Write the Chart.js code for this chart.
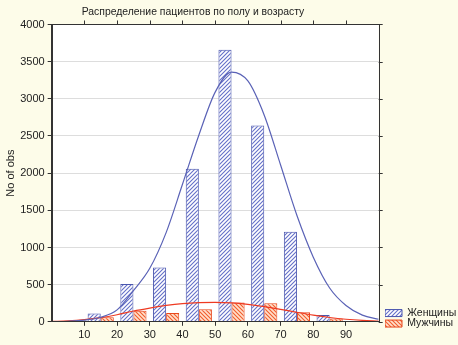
<!DOCTYPE html>
<html>
<head>
<meta charset="utf-8">
<script src="https://cdn.jsdelivr.net/npm/chart.js@4/dist/chart.umd.min.js"></script>
<style>
  html, body { margin: 0; padding: 0; background: #FDFCE9; }
  #wrap { width: 458px; height: 345px; }
</style>
</head>
<body>
<div id="wrap"><canvas id="c" width="458" height="345"></canvas></div>
<script>
// ---- data ----
const titleText = 'Распределение пациентов по полу и возрасту';
const yTitle = 'No of obs';
const seriesNames = ['Женщины', 'Мужчины'];
const ageGroups = [15, 25, 35, 45, 55, 65, 75, 85];
const women = [110, 510, 730, 2060, 3660, 2640, 1210, 90];
const men = [60, 150, 120, 170, 260, 250, 130, 45];
const fitX = [0, 5, 10, 15, 20, 25, 30, 35, 40, 45, 50, 55, 60, 65, 70, 75, 80, 85, 90, 95, 100];
const womenFit = [2, 7, 22, 61, 160, 420, 720, 1200, 1850, 2510, 3090, 3360, 3240, 2780, 2110, 1430, 870, 455, 220, 90, 34];
const menFit = [5, 12, 28, 55, 95, 145, 185, 220, 245, 258, 262, 255, 235, 205, 168, 128, 90, 58, 34, 18, 8];
const xTicks = [10, 20, 30, 40, 50, 60, 70, 80, 90];

function hatch(bg, fg, dir) {
  const s = 4;
  const cv = document.createElement('canvas');
  cv.width = s; cv.height = s;
  const g = cv.getContext('2d');
  g.fillStyle = bg; g.fillRect(0, 0, s, s);
  g.strokeStyle = fg; g.lineWidth = 1.1;
  g.beginPath();
  if (dir > 0) {
    g.moveTo(-1, s + 1); g.lineTo(s + 1, -1);
    g.moveTo(-1, 1); g.lineTo(1, -1);
    g.moveTo(s - 1, s + 1); g.lineTo(s + 1, s - 1);
  } else {
    g.moveTo(-1, -1); g.lineTo(s + 1, s + 1);
    g.moveTo(s - 1, -1); g.lineTo(s + 1, 1);
    g.moveTo(-1, s - 1); g.lineTo(1, s + 1);
  }
  g.stroke();
  return document.getElementById('c').getContext('2d').createPattern(cv, 'repeat');
}

const womenFill = hatch('#FFFFFF', '#6470C8', 1);
const menFill = hatch('#FFE0CC', '#F25C2C', -1);

const frame = {
  id: 'frame',
  beforeDraw(chart) {
    const {ctx, chartArea: a} = chart;
    ctx.save();
    ctx.fillStyle = '#FDFCE9';
    ctx.fillRect(0, 0, chart.width, chart.height);
    ctx.fillStyle = '#FFFFFF';
    ctx.fillRect(a.left, a.top, a.right - a.left, a.bottom - a.top);
    ctx.restore();
  },
  afterDraw(chart) {
    const {ctx, chartArea: a, scales} = chart;
    ctx.save();
    ctx.strokeStyle = '#333333';
    ctx.lineWidth = 1;
    ctx.strokeRect(Math.round(a.left) + 0.5, Math.round(a.top) + 0.5, Math.round(a.right - a.left), Math.round(a.bottom - a.top));
    ctx.beginPath();
    xTicks.forEach(v => {
      const x = Math.round(scales.x.getPixelForValue(v)) + 0.5;
      ctx.moveTo(x, a.top); ctx.lineTo(x, a.top - 4);
    });
    scales.y.ticks.forEach(t => {
      const y = Math.round(scales.y.getPixelForValue(t.value)) + 0.5;
      ctx.moveTo(a.right, y); ctx.lineTo(a.right + 4, y);
    });
    ctx.stroke();
    ctx.restore();
  },
  afterLayout(chart) {
    const t = chart.titleBlock;
    if (t) { t.left = 0; t.right = 386; t.width = 386; }
    const l = chart.legend;
    if (l) {
      const w = l.width; l.left = 385; l.right = 385 + w;
      l.top += 7; l.bottom += 7;
    }
  }
};

new Chart(document.getElementById('c'), {
  type: 'bar',
  data: {
    datasets: [
      { type: 'bar', label: seriesNames[0], data: ageGroups.map((x, i) => ({x, y: women[i]})),
        backgroundColor: womenFill, borderColor: '#4A56AE', borderWidth: 1, order: 2,
        categoryPercentage: 0.8, barPercentage: 1 },
      { type: 'bar', label: seriesNames[1], data: ageGroups.map((x, i) => ({x, y: men[i]})),
        backgroundColor: menFill, borderColor: '#E8481C', borderWidth: 1, order: 2,
        categoryPercentage: 0.8, barPercentage: 1 },
      { type: 'line', label: 'fitW', data: fitX.map((x, i) => ({x, y: womenFit[i]})),
        borderColor: '#5A62B6', borderWidth: 1.2, pointRadius: 0, fill: false,
        cubicInterpolationMode: 'monotone', order: 0 },
      { type: 'line', label: 'fitM', data: fitX.map((x, i) => ({x, y: menFit[i]})),
        borderColor: '#EE3A22', borderWidth: 1.2, pointRadius: 0, fill: false,
        cubicInterpolationMode: 'monotone', order: 0 }
    ]
  },
  options: {
    responsive: false,
    animation: false,
    layout: { padding: { left: 0, right: -2, top: 0, bottom: 0 } },
    plugins: {
      tooltip: { enabled: false },
      title: {
        display: true, text: titleText, color: '#222222',
        font: { family: 'Liberation Sans, Arial, sans-serif', size: 10.4, weight: 'normal' },
        padding: { top: 6, bottom: 6 }
      },
      legend: {
        display: true, position: 'right', align: 'end', fullSize: false,
        labels: {
          boxWidth: 17, boxHeight: 7, padding: 0, color: '#222222',
          font: { family: 'Liberation Sans, Arial, sans-serif', size: 10.5 },
          filter: item => item.datasetIndex < 2
        }
      }
    },
    scales: {
      x: {
        type: 'linear', min: 0, max: 100, offset: false,
        grid: { display: true, drawOnChartArea: false, offset: false, tickLength: 4, tickColor: '#333333' },
        border: { display: true, color: '#333333' },
        afterBuildTicks: s => { s.ticks = xTicks.map(v => ({value: v})); },
        ticks: { color: '#222222', padding: 3, maxRotation: 0,
          font: { family: 'Liberation Sans, Arial, sans-serif', size: 11 } }
      },
      y: {
        min: 0, max: 4000,
        ticks: { stepSize: 500, color: '#222222', padding: 3,
          callback: v => String(v),
          font: { family: 'Liberation Sans, Arial, sans-serif', size: 11 } },
        grid: { color: '#DDDDDD', tickColor: '#333333', tickLength: 4 },
        border: { display: true, color: '#333333' },
        title: { display: true, text: yTitle, color: '#222222', padding: { top: 4, bottom: 0 },
          font: { family: 'Liberation Sans, Arial, sans-serif', size: 11 } }
      }
    }
  },
  plugins: [frame]
});
</script>
</body>
</html>
